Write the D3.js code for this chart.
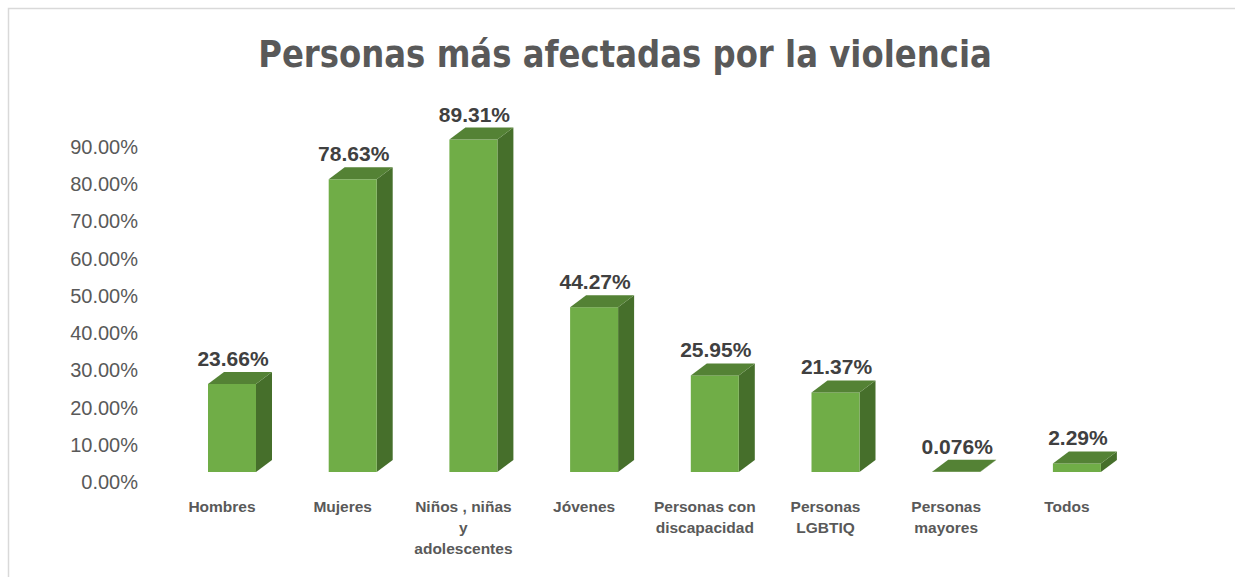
<!DOCTYPE html>
<html>
<head>
<meta charset="utf-8">
<script src="https://cdn.jsdelivr.net/npm/d3@7"></script>
<style>
  body { margin: 0; background: #fff; }
  text { font-family: "Liberation Sans", Arial, sans-serif; }
</style>
</head>
<body>
<div id="chart"></div>
<script>
const titleText = "Personas más afectadas por la violencia"
const categories = ["Hombres", "Mujeres", "Niños , niñas y adolescentes", "Jóvenes",
  "Personas con discapacidad", "Personas LGBTIQ", "Personas mayores", "Todos"]
const values = [0.2366, 0.7863, 0.8931, 0.4427, 0.2595, 0.2137, 0.00076, 0.0229]
const valueLabels = ["23.66%", "78.63%", "89.31%", "44.27%", "25.95%", "21.37%", "0.076%", "2.29%"]
const yTicks = [0, 0.1, 0.2, 0.3, 0.4, 0.5, 0.6, 0.7, 0.8, 0.9]

const W = 1235, H = 577
const barW = 48, depthX = 16, depthY = 12
const colors = {front: "#70ad47", top: "#548235", side: "#466f2b"}

const svg = d3.select('#chart').append('svg')
  .attr('width', W).attr('height', H)

// chart border (only top and left visible in frame)
svg.append('path')
  .attr('d', `M8.5,${H} L8.5,8.5 L${W},8.5`)
  .attr('fill', 'none')
  .attr('stroke', '#d9d9d9')
  .attr('stroke-width', 1.5)

const x = d3.scaleBand().domain(categories).range([208, 208 + 120.7 * 8]).paddingInner(0).paddingOuter(0)
const y = d3.scaleLinear().domain([0, 0.9]).range([472, 137])

// title, fitted to width, a bit taller like the original face
const title = svg.append('text')
  .attr('text-anchor', 'middle')
  .attr('font-weight', 'bold')
  .attr('font-size', 36)
  .attr('fill', '#595959')
  .style('font-family', '"DejaVu Sans", sans-serif')
  .text(titleText)
const tw = title.node().getComputedTextLength()
title.attr('font-size', 36 * 734 / tw)
  .attr('transform', 'translate(625,67) scale(1,1.15)')

// y axis labels
svg.append('g').selectAll('text')
  .data(yTicks)
  .join('text')
  .attr('x', 138)
  .attr('y', d => y(d) + 10)
  .attr('dy', '0.35em')
  .attr('text-anchor', 'end')
  .attr('font-size', 20)
  .attr('fill', '#595959')
  .text(d => d3.format('.2%')(d))

// bars
const bars = svg.append('g').selectAll('g')
  .data(categories.map((c, i) => ({c, v: values[i], label: valueLabels[i]})))
  .join('g')

bars.append('path')
  .attr('fill', colors.side)
  .attr('d', d => {
    const x0 = x(d.c) + barW, yt = y(d.v), yb = y(0)
    return `M${x0},${yt} L${x0 + depthX},${yt - depthY} L${x0 + depthX},${yb - depthY} L${x0},${yb} Z`
  })

bars.append('rect')
  .attr('fill', colors.front)
  .attr('x', d => x(d.c))
  .attr('y', d => y(d.v))
  .attr('width', barW)
  .attr('height', d => y(0) - y(d.v))

bars.append('path')
  .attr('fill', colors.top)
  .attr('d', d => {
    const x0 = x(d.c), yt = y(d.v)
    return `M${x0},${yt} L${x0 + depthX},${yt - depthY} L${x0 + barW + depthX},${yt - depthY} L${x0 + barW},${yt} Z`
  })

bars.append('text')
  .attr('x', d => x(d.c) + barW / 2 + 1)
  .attr('y', d => y(d.v) - depthY - 6)
  .attr('text-anchor', 'middle')
  .attr('font-weight', 'bold')
  .attr('font-size', 21)
  .attr('fill', '#404040')
  .text(d => d.label)

// category labels, wrapped
const catLabels = svg.append('g').selectAll('text')
  .data(categories)
  .join('text')
  .attr('text-anchor', 'middle')
  .attr('font-weight', 'bold')
  .attr('font-size', 15.5)
  .attr('fill', '#595959')
  .attr('transform', d => `translate(${x(d) + 14}, 512)`)

catLabels.each(function(d){
  const t = d3.select(this)
  const words = d.split(' ')
  let lines = [], cur = []
  words.forEach(w => {
    cur.push(w)
    const probe = t.append('tspan').text(cur.join(' '))
    const len = probe.node().getComputedTextLength()
    probe.remove()
    if (len > 106 && cur.length > 1) {
      cur.pop()
      lines.push(cur.join(' '))
      cur = [w]
    }
  })
  lines.push(cur.join(' '))
  lines.forEach((l, i) => t.append('tspan').attr('x', 0).attr('y', i * 21).text(l))
})
</script>
</body>
</html>
